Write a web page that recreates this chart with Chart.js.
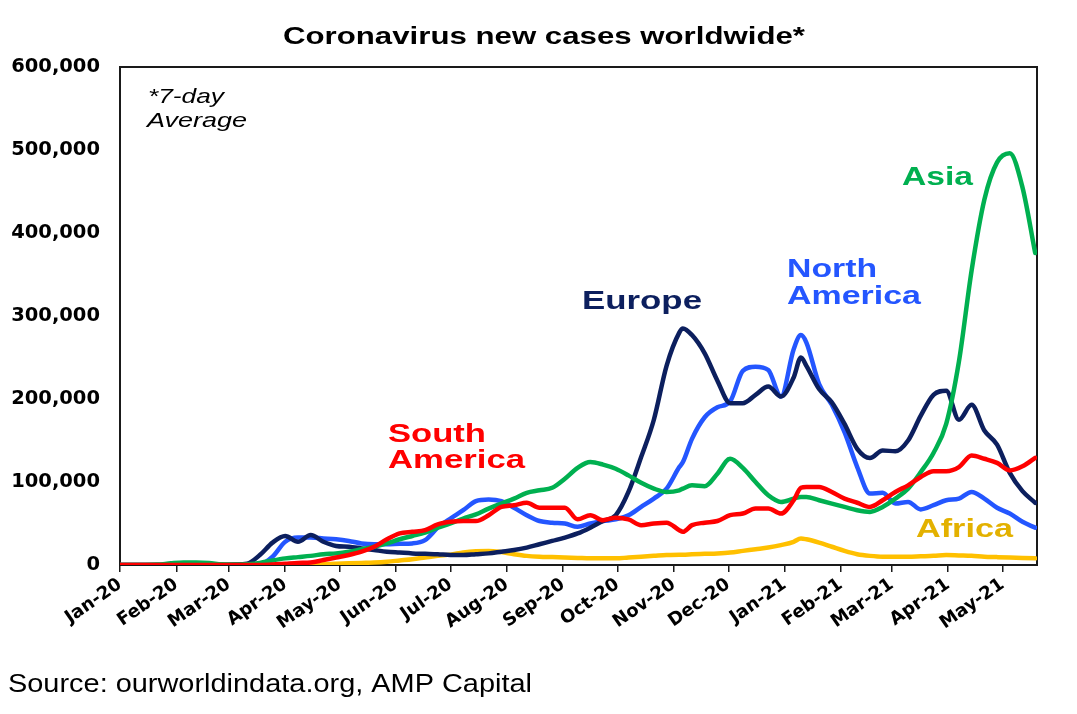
<!DOCTYPE html>
<html>
<head>
<meta charset="utf-8">
<script src="https://cdn.jsdelivr.net/npm/chart.js@4.4.1/dist/chart.umd.min.js"></script>
<style>
  html, body { margin: 0; padding: 0; background: #ffffff; }
  #wrap { width: 1077px; height: 714px; position: relative; }
</style>
</head>
<body>
<div id="wrap"><canvas id="c"></canvas></div>
<script>
// Day offsets from 1 Jan 2020
const days = [0,7,14,21,28,35,42,49,56,63,70,77,84,91,98,105,112,119,126,133,140,147,154,161,168,175,182,189,196,203,210,217,224,231,238,245,252,259,266,273,280,287,294,301,308,310,315,322,329,336,343,350,357,364,371,375,378,385,392,399,406,413,420,427,434,441,448,455,462,469,476,483,490,497,504];

const europe = [0,0,0,0,0,0,0,0,0,500,1500,12000,27000,35000,28000,36000,28000,23000,22000,20000,18000,16000,15000,14000,13500,13000,12000,12000,13000,14000,16000,18000,21000,25000,29000,33000,38000,45000,53000,60000,88000,130000,175000,240000,280000,
  285000,
  277000,255000,222000,195000,195000,205000,215000,203000,226000,
  250000,
  240000,212000,196000,170000,140000,129000,138000,137000,150000,180000,205000,210000,175000,193000,162000,145000,111000,89000,75000];

const northAmerica = [0,0,0,0,0,0,0,0,0,0,0,500,10000,28000,33000,33000,32000,31000,29000,26000,25000,25000,25500,26000,30000,45000,56000,66000,77000,79000,77000,69000,60000,53000,51000,50000,46000,50000,53000,55000,60000,70000,80000,92000,118000,
  124000,
  152000,178000,190000,197000,234000,239000,235000,203000,260000,
  277000,
  268000,218000,193000,160000,118000,86000,87000,74000,76000,67000,72000,78000,80000,88000,80000,69000,62000,52000,45000];

const asia = [0,0,0,500,2000,3000,3000,2500,800,500,1000,2500,5500,8000,9500,11000,13000,14000,16000,19000,22000,26000,31000,35000,39000,45000,50000,56000,61000,68000,74000,80000,87000,90000,93000,104000,117000,124000,121000,116000,108000,99000,92000,88000,90000,
  92000,
  96000,95000,110000,128000,117000,100000,84000,76000,80000,
  82000,
  82000,78000,74000,70000,66000,64000,70000,80000,92000,112000,135000,170000,245000,355000,440000,485000,496000,455000,376000];

const southAmerica = [0,0,0,0,0,0,0,0,0,0,0,0,500,1500,2500,3000,6000,9000,12000,16000,22000,31000,38000,40000,42000,49000,52000,53000,53000,60000,70000,72000,75000,69000,69000,69000,55000,60000,54000,57000,55000,48000,50000,51000,42000,
  40000,
  48000,51000,53000,60000,62000,68000,68000,62000,78000,
  93000,
  94000,94000,88000,80000,75000,70000,78000,88000,96000,106000,113000,113000,118000,132000,128000,123000,114000,119000,129000];

const africa = [0,0,0,0,0,0,0,0,0,0,0,0,0,0,300,500,1000,1500,2000,2500,3000,4000,5500,7000,9000,11000,12500,15000,16500,17000,15500,13000,11000,10000,9500,9000,8500,8000,8000,8000,9000,10000,11000,12000,12500,
  12500,
  13000,13500,14000,15000,17000,19000,21000,24000,28000,
  32000,
  31000,27000,22000,17000,13000,11000,10000,10000,10000,10500,11000,12000,11500,11000,10000,9500,9000,8500,8000];

// X-axis ticks: first day of each month (offset from 1 Jan 2020)
const monthDays = [0,31,60,91,121,152,182,213,244,274,305,335,366,397,425,456,486];
const monthLabels = ['Jan-20','Feb-20','Mar-20','Apr-20','May-20','Jun-20','Jul-20','Aug-20','Sep-20','Oct-20','Nov-20','Dec-20','Jan-21','Feb-21','Mar-21','Apr-21','May-21'];
const yTicks = [0,100000,200000,300000,400000,500000,600000];

const colors = {
  europe: '#0c1f5e',
  na: '#2456ff',
  asia: '#00b050',
  sa: '#ff0000',
  africa: '#ffc000',
  africaLabel: '#e3b100'
};

function pts(vals) { return days.map((d, i) => ({ x: d, y: vals[i] })); }

function stretchText(ctx, txt, font, color, x, y, w) {
  ctx.save();
  ctx.font = font;
  ctx.fillStyle = color;
  ctx.textAlign = 'left';
  ctx.textBaseline = 'alphabetic';
  const m = ctx.measureText(txt).width;
  ctx.translate(x, y);
  ctx.scale(w / m, 1);
  ctx.fillText(txt, 0, 0);
  ctx.restore();
}

const F = '"Liberation Sans", Arial, sans-serif';

const framePlugin = {
  id: 'frame',
  beforeDraw(chart) {
    const ctx = chart.ctx;
    ctx.save();
    ctx.fillStyle = '#ffffff';
    ctx.fillRect(0, 0, chart.width, chart.height);
    ctx.restore();
  },
  beforeDatasetsDraw(chart) {
    const a = chart.chartArea;
    const ctx = chart.ctx;
    ctx.save();
    ctx.strokeStyle = '#1a1a1a';
    ctx.lineWidth = 2;
    ctx.strokeRect(a.left, a.top, a.right - a.left, a.bottom - a.top);
    ctx.restore();
  },
  afterDraw(chart) {
    const ctx = chart.ctx;
    stretchText(ctx, 'Coronavirus new cases worldwide*', 'bold 23px ' + F, '#000000', 283, 44, 522);
    stretchText(ctx, 'Source: ourworldindata.org, AMP Capital', '25px ' + F, '#000000', 8, 692, 524);
    stretchText(ctx, '*7-day', 'italic 21px ' + F, '#000000', 148, 103, 76);
    stretchText(ctx, 'Average', 'italic 21px ' + F, '#000000', 147, 127, 100);
    stretchText(ctx, 'Europe', 'bold 26px ' + F, colors.europe, 582, 309, 120);
    stretchText(ctx, 'North', 'bold 26px ' + F, colors.na, 787, 277, 90);
    stretchText(ctx, 'America', 'bold 26px ' + F, colors.na, 787, 304, 134);
    stretchText(ctx, 'Asia', 'bold 26px ' + F, colors.asia, 902, 185, 71);
    stretchText(ctx, 'South', 'bold 26px ' + F, colors.sa, 388, 442, 98);
    stretchText(ctx, 'America', 'bold 26px ' + F, colors.sa, 388, 468, 137);
    stretchText(ctx, 'Africa', 'bold 26px ' + F, colors.africaLabel, 916, 537, 97);
  }
};

const lineDefaults = {
  borderWidth: 4.5,
  pointRadius: 0,
  pointHoverRadius: 0,
  fill: false,
  cubicInterpolationMode: 'monotone',
  borderJoinStyle: 'round',
  borderCapStyle: 'round'
};

new Chart(document.getElementById('c'), {
  type: 'line',
  data: {
    datasets: [
      Object.assign({ label: 'Africa', data: pts(africa), borderColor: colors.africa, order: 5 }, lineDefaults),
      Object.assign({ label: 'North America', data: pts(northAmerica), borderColor: colors.na, order: 4 }, lineDefaults),
      Object.assign({ label: 'Europe', data: pts(europe), borderColor: colors.europe, order: 3 }, lineDefaults),
      Object.assign({ label: 'Asia', data: pts(asia), borderColor: colors.asia, order: 2 }, lineDefaults),
      Object.assign({ label: 'South America', data: pts(southAmerica), borderColor: colors.sa, order: 1 }, lineDefaults)
    ]
  },
  options: {
    responsive: true,
    maintainAspectRatio: false,
    animation: false,
    events: [],
    layout: { padding: { top: 67, right: 40, bottom: 59, left: 0 } },
    plugins: {
      legend: { display: false },
      title: { display: false },
      tooltip: { enabled: false }
    },
    scales: {
      x: {
        type: 'linear',
        min: 0,
        max: 505,
        afterBuildTicks(s) { s.ticks = monthDays.map(v => ({ value: v })); },
        afterFit(s) { s.height = 90; },
        ticks: {
          autoSkip: false,
          maxRotation: 35,
          minRotation: 35,
          padding: 2,
          color: '#000000',
          font: { family: '"DejaVu Sans"', weight: 'bold', size: 18 },
          callback(value) { const i = monthDays.indexOf(value); return i >= 0 ? monthLabels[i] : ''; }
        },
        grid: {
          display: true,
          drawOnChartArea: false,
          drawTicks: true,
          tickLength: 7,
          color: '#1a1a1a',
          lineWidth: 1.5
        },
        border: { display: false }
      },
      y: {
        type: 'linear',
        min: 0,
        max: 600000,
        afterBuildTicks(s) { s.ticks = yTicks.map(v => ({ value: v })); },
        afterFit(s) { s.width = 120; },
        ticks: {
          padding: 20,
          color: '#000000',
          font: { family: '"DejaVu Sans"', weight: 'bold', size: 19.5 },
          callback(value) { return value.toLocaleString('en-US'); }
        },
        grid: { display: false, drawTicks: false },
        border: { display: false }
      }
    }
  },
  plugins: [framePlugin]
});
</script>
</body>
</html>
